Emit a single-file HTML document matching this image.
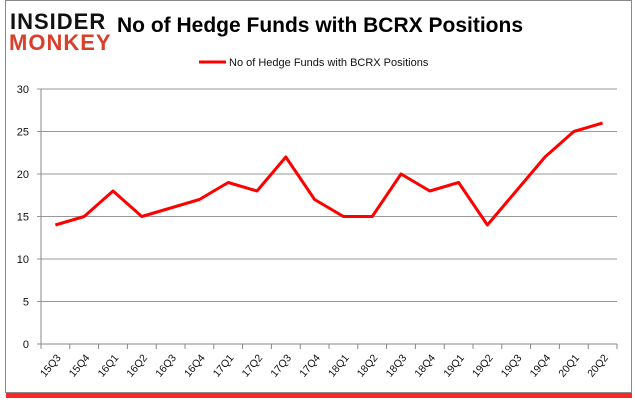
<!DOCTYPE html>
<html><head><meta charset="utf-8"><style>
body{margin:0;background:#fff;width:635px;height:405px;overflow:hidden;font-family:"Liberation Sans",sans-serif}
</style></head><body>
<svg width="635" height="405" xmlns="http://www.w3.org/2000/svg">
<rect x="6" y="391" width="626" height="7" fill="#f00" opacity="0.85"/>
<rect x="5.5" y="0.5" width="626" height="392" fill="#fff" stroke="#888"/>
<g>
<text x="10" y="29" font-size="22" font-weight="bold" fill="#111" letter-spacing="1" font-family="Liberation Sans, sans-serif">INSIDER</text>
<text x="9" y="50" font-size="22" font-weight="bold" fill="#d9402b" letter-spacing="1">MONKEY</text>
</g>
<text x="320" y="32" text-anchor="middle" font-size="21" font-weight="bold" fill="#000">No of Hedge Funds with BCRX Positions</text>
<line x1="199" y1="62" x2="226" y2="62" stroke="#f00" stroke-width="3"/>
<text x="229" y="66" font-size="11" fill="#111">No of Hedge Funds with BCRX Positions</text>
<g id="grid"></g><g id="axes"></g><g id="series"></g>
</svg>
<script>
const categories=["15Q3","15Q4","16Q1","16Q2","16Q3","16Q4","17Q1","17Q2","17Q3","17Q4","18Q1","18Q2","18Q3","18Q4","19Q1","19Q2","19Q3","19Q4","20Q1","20Q2"];
const values=[14,15,18,15,16,17,19,18,22,17,15,15,20,18,19,14,18,22,25,26];
const yTicks=[0,5,10,15,20,25,30];
const NS="http://www.w3.org/2000/svg";
const L=41,R=617,T=89,B=344,YMAX=30;
const xs=i=>L+(R-L)/categories.length*(i+0.5);
const ys=v=>B-(B-T)*v/YMAX;
function mk(t,a,p){const e=document.createElementNS(NS,t);for(const k in a)e.setAttribute(k,a[k]);p.appendChild(e);return e;}
const grid=document.getElementById('grid'),axes=document.getElementById('axes'),series=document.getElementById('series');
yTicks.forEach(v=>{
 const g=mk('line',{x1:L-4,x2:R,y1:ys(v),y2:ys(v),stroke:v===0?'#888':'#999','stroke-width':1},grid);
 
 
 const t=mk('text',{x:L-12,y:ys(v)+4,'text-anchor':'end','font-size':11,fill:'#111'},axes);
 t.textContent=v;
 
 
});
const ya=mk('line',{x1:L,x2:L,y1:T,y2:B,stroke:'#888'},axes);


categories.forEach((c,i)=>{
 const x=L+(R-L)/categories.length*i;
 const tk=mk('line',{x1:x,x2:x,y1:B,y2:B+5,stroke:'#888'},axes);
 
 
 const t=mk('text',{x:xs(i)+6,y:B+14,'text-anchor':'end','font-size':10.5,fill:'#111',transform:`rotate(-50 ${xs(i)+6} ${B+14})`},axes);
 t.textContent=c;
 
 
});
const lt=mk('line',{x1:R,x2:R,y1:B,y2:B+5,stroke:'#888'},axes);


const pl=mk('polyline',{points:values.map((v,i)=>xs(i)+','+ys(v)).join(' '),fill:'none',stroke:'#f00','stroke-width':3,'stroke-linejoin':'round'},series);


</script>
</body></html>
